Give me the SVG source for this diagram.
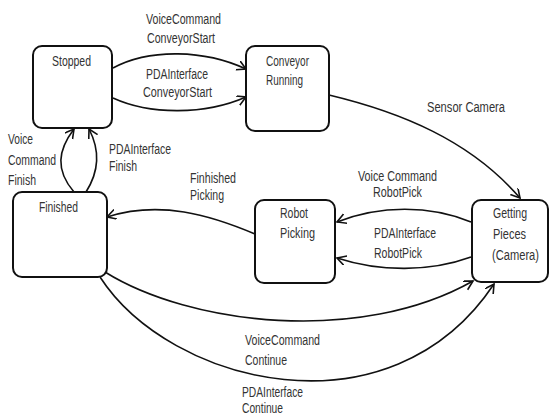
<svg xmlns="http://www.w3.org/2000/svg" width="550" height="416" viewBox="0 0 550 416">
<style>
.box{fill:#fff;stroke:#111;stroke-width:2}
.edge{fill:none;stroke:#111;stroke-width:1.6;marker-end:url(#arr)}
text{font-family:"Liberation Sans",Arial,sans-serif;font-size:14px;fill:#333}
</style>
<defs>
<marker id="arr" markerUnits="userSpaceOnUse" markerWidth="12" markerHeight="12" refX="9" refY="5" orient="auto">
<path d="M0,0 L9,5 L0,10" fill="none" stroke="#111" stroke-width="1.6"/>
</marker>
</defs>
<rect width="550" height="416" fill="#fff"/>
<g id="connectors">
<path class="edge" d="M113,68 C150,48 205,50 246,69"/>
<path class="edge" d="M113,98 C150,115 205,115 246,97"/>
<path class="edge" d="M329,95 C400,112 470,140 520,198"/>
<path class="edge" d="M471,222 C430,205 380,205 337,222"/>
<path class="edge" d="M471,257 C430,272 380,272 337,258"/>
<path class="edge" d="M255,234 C210,215 160,200 107,217"/>
<path class="edge" d="M74,192 C55,170 58,150 74,129"/>
<path class="edge" d="M86,192 C100,170 100,150 89,129"/>
<path class="edge" d="M105,272 C190,325 360,345 473,281"/>
<path class="edge" d="M100,277 C170,385 390,440 494,284"/>
<text x="146" y="24" textLength="75" lengthAdjust="spacingAndGlyphs">VoiceCommand</text>
<text x="147" y="43" textLength="68" lengthAdjust="spacingAndGlyphs">ConveyorStart</text>
<text x="146" y="79" textLength="62" lengthAdjust="spacingAndGlyphs">PDAInterface</text>
<text x="143" y="97" textLength="69" lengthAdjust="spacingAndGlyphs">ConveyorStart</text>
<text x="8" y="144" textLength="25" lengthAdjust="spacingAndGlyphs">Voice</text>
<text x="8" y="165" textLength="48" lengthAdjust="spacingAndGlyphs">Command</text>
<text x="8" y="185" textLength="28" lengthAdjust="spacingAndGlyphs">Finish</text>
<text x="109" y="154" textLength="62" lengthAdjust="spacingAndGlyphs">PDAInterface</text>
<text x="109" y="171" textLength="28" lengthAdjust="spacingAndGlyphs">Finish</text>
<text x="427" y="112" textLength="78" lengthAdjust="spacingAndGlyphs">Sensor Camera</text>
<text x="358" y="181" textLength="79" lengthAdjust="spacingAndGlyphs">Voice Command</text>
<text x="373" y="197" textLength="49" lengthAdjust="spacingAndGlyphs">RobotPick</text>
<text x="374" y="238" textLength="62" lengthAdjust="spacingAndGlyphs">PDAInterface</text>
<text x="374" y="258" textLength="48" lengthAdjust="spacingAndGlyphs">RobotPick</text>
<text x="190" y="183" textLength="46" lengthAdjust="spacingAndGlyphs">Finhished</text>
<text x="190" y="200" textLength="34" lengthAdjust="spacingAndGlyphs">Picking</text>
<text x="245" y="345" textLength="75" lengthAdjust="spacingAndGlyphs">VoiceCommand</text>
<text x="245" y="365" textLength="42" lengthAdjust="spacingAndGlyphs">Continue</text>
<text x="242" y="397" textLength="61" lengthAdjust="spacingAndGlyphs">PDAInterface</text>
<text x="242" y="413" textLength="41" lengthAdjust="spacingAndGlyphs">Continue</text>
</g>
<g id="stopped">
<rect class="box" x="33" y="46" width="79" height="82" rx="9"/>
<text x="52" y="66" textLength="39" lengthAdjust="spacingAndGlyphs">Stopped</text>
</g>
<g id="conveyor-running">
<rect class="box" x="246" y="46" width="83" height="85" rx="9"/>
<text x="266" y="66" textLength="43" lengthAdjust="spacingAndGlyphs">Conveyor</text>
<text x="266" y="85" textLength="37" lengthAdjust="spacingAndGlyphs">Running</text>
</g>
<g id="getting-pieces">
<rect class="box" x="472" y="200" width="76" height="82" rx="9"/>
<text x="493" y="218" textLength="34" lengthAdjust="spacingAndGlyphs">Getting</text>
<text x="493" y="239" textLength="33" lengthAdjust="spacingAndGlyphs">Pieces</text>
<text x="492" y="260" textLength="47" lengthAdjust="spacingAndGlyphs">(Camera)</text>
</g>
<g id="robot-picking">
<rect class="box" x="255" y="200" width="80" height="83" rx="9"/>
<text x="280" y="218" textLength="28" lengthAdjust="spacingAndGlyphs">Robot</text>
<text x="280" y="238" textLength="35" lengthAdjust="spacingAndGlyphs">Picking</text>
</g>
<g id="finished">
<rect class="box" x="13" y="192" width="94" height="85" rx="9"/>
<text x="39" y="212" textLength="39" lengthAdjust="spacingAndGlyphs">Finished</text>
</g>
</svg>
